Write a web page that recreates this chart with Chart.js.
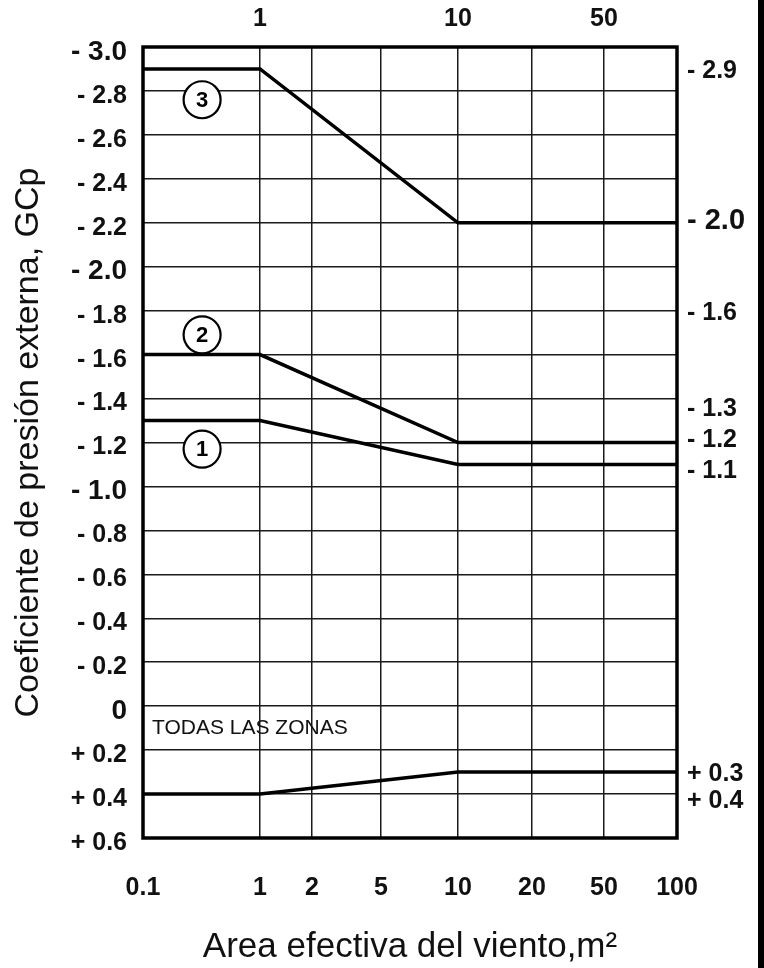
<!DOCTYPE html>
<html>
<head>
<meta charset="utf-8">
<title>Coeficiente de presión externa, GCp</title>
<script src="https://cdn.jsdelivr.net/npm/chart.js"></script>
<style>
    body {
        margin: 0;
        background: #fff;
    }
    #wrap {
        width: 764px;
        height: 968px;
        box-sizing: border-box;
        border-right: 6px solid #000;
    }
    canvas {
        display: block;
    }
</style>
</head>
<body>
<div id="wrap"><canvas id="gcpChart" width="758" height="968"></canvas></div>

<script>
// effective wind area (m2) at the corners of each curve
const areas = [0.1, 1, 10, 100];
const zone1 = [-1.3, -1.3, -1.1, -1.1];
const zone2 = [-1.6, -1.6, -1.2, -1.2];
const zone3 = [-2.9, -2.9, -2.2, -2.2];
const allZones = [0.4, 0.4, 0.3, 0.3];

const bottomTicks = [0.1, 1, 2, 5, 10, 20, 50, 100];
const topTicks = [1, 10, 50];
const yTicks = [-3.0, -2.8, -2.6, -2.4, -2.2, -2.0, -1.8, -1.6, -1.4, -1.2,
                -1.0, -0.8, -0.6, -0.4, -0.2, 0, 0.2, 0.4, 0.6];

// text written at the right of the frame: [text, GCp]
const sideLabels = [['- 2.9', -2.89], ['- 2.0', -2.21], ['- 1.6', -1.79], ['- 1.3', -1.35],
                    ['- 1.2', -1.21], ['- 1.1', -1.07], ['+ 0.3', 0.31], ['+ 0.4', 0.43]];
// circled zone numbers: [zone, area, GCp]
const zoneMarks = [['3', 0.32, -2.76], ['2', 0.32, -1.69], ['1', 0.32, -1.17]];

// the printed grid is not a true log axis, so the columns go where the drawing has them
const xGridFrac = [0, 117, 169, 238, 315, 389, 461, 534].map(v => v / 534);

const FONT = '"Liberation Sans", Arial, sans-serif';

function areaToFrac(v) {
    const b = bottomTicks;
    if (v <= b[0]) return 0;
    for (let i = 1; i < b.length; i++) {
        if (v <= b[i]) {
            const t = Math.log(v / b[i - 1]) / Math.log(b[i] / b[i - 1]);
            return xGridFrac[i - 1] + t * (xGridFrac[i] - xGridFrac[i - 1]);
        }
    }
    return 1;
}

function fracToArea(f) {
    const b = bottomTicks;
    for (let i = 1; i < b.length; i++) {
        if (f <= xGridFrac[i]) {
            const t = (f - xGridFrac[i - 1]) / (xGridFrac[i] - xGridFrac[i - 1]);
            return b[i - 1] * Math.pow(b[i] / b[i - 1], t);
        }
    }
    return b[b.length - 1];
}

class PiecewiseScale extends Chart.LinearScale {
    static id = 'piecewise';
    getPixelForValue(v) {
        if (v === null || isNaN(v)) return NaN;
        return this.getPixelForDecimal(areaToFrac(v));
    }
    getValueForPixel(px) {
        return fracToArea(this.getDecimalForPixel(px));
    }
}
Chart.register(PiecewiseScale);

function line(values) {
    return {
        data: areas.map((a, i) => ({ x: a, y: values[i] })),
        borderColor: '#000',
        borderWidth: 3.5,
        pointRadius: 0,
        tension: 0,
        fill: false
    };
}

const extras = {
    id: 'extras',
    afterDraw(chart) {
        const { ctx, chartArea: a, scales: { x, y } } = chart;
        ctx.save();
        ctx.strokeStyle = '#000';
        ctx.lineWidth = 3.5;
        ctx.strokeRect(a.left, a.top, a.right - a.left, a.bottom - a.top);

        ctx.textAlign = 'center';
        ctx.textBaseline = 'middle';
        zoneMarks.forEach(([n, xv, yv]) => {
            const px = x.getPixelForValue(xv);
            const py = y.getPixelForValue(yv);
            ctx.beginPath();
            ctx.arc(px, py, 18.5, 0, Math.PI * 2);
            ctx.fillStyle = '#fff';
            ctx.fill();
            ctx.lineWidth = 2.2;
            ctx.stroke();
            ctx.fillStyle = '#000';
            ctx.font = 'bold 22px ' + FONT;
            ctx.fillText(n, px, py + 1);
        });

        ctx.textAlign = 'left';
        ctx.fillStyle = '#111';
        ctx.font = '21px ' + FONT;
        ctx.fillText('TODAS LAS ZONAS', a.left + 9, y.getPixelForValue(0.1));

        sideLabels.forEach(([t, yv]) => {
            ctx.font = 'bold ' + (t === '- 2.0' ? 29 : 25) + 'px ' + FONT;
            ctx.fillText(t, a.right + 10, y.getPixelForValue(yv));
        });
        ctx.restore();
    }
};

new Chart(document.getElementById('gcpChart'), {
    type: 'line',
    data: {
        datasets: [line(zone3), line(zone2), line(zone1), line(allZones)]
    },
    options: {
        responsive: false,
        animation: false,
        layout: { padding: { top: 0, left: 0, right: 81, bottom: 0 } },
        plugins: {
            legend: { display: false },
            tooltip: { enabled: false }
        },
        scales: {
            x: {
                type: 'piecewise',
                position: 'bottom',
                min: 0.1,
                max: 100,
                afterBuildTicks: axis => { axis.ticks = bottomTicks.map(v => ({ value: v })); },
                afterFit: axis => { axis.height = 130; },
                grid: { color: '#1a1a1a', lineWidth: 1.5, drawTicks: false },
                border: { display: false },
                ticks: {
                    autoSkip: false,
                    maxRotation: 0,
                    padding: 35,
                    color: '#111',
                    font: { family: FONT, weight: 'bold', size: 25 },
                    callback: v => String(v)
                },
                title: {
                    display: true,
                    text: 'Area efectiva del viento,m²',
                    color: '#111',
                    padding: { top: 0, bottom: 0 },
                    font: { family: FONT, size: 35 }
                }
            },
            x2: {
                type: 'piecewise',
                position: 'top',
                min: 0.1,
                max: 100,
                afterBuildTicks: axis => { axis.ticks = topTicks.map(v => ({ value: v })); },
                afterFit: axis => { axis.height = 47; },
                grid: { display: false, drawTicks: false },
                border: { display: false },
                ticks: {
                    autoSkip: false,
                    maxRotation: 0,
                    padding: 13,
                    color: '#111',
                    font: { family: FONT, weight: 'bold', size: 25 },
                    callback: v => String(v)
                }
            },
            y: {
                min: -3.0,
                max: 0.6,
                reverse: true,
                bounds: 'data',
                afterBuildTicks: axis => { axis.ticks = yTicks.map(v => ({ value: v })); },
                afterFit: axis => { axis.width = 143; },
                grid: { color: '#1a1a1a', lineWidth: 1.5, drawTicks: false },
                border: { display: false },
                ticks: {
                    autoSkip: false,
                    padding: 16,
                    labelOffset: 5,
                    color: '#111',
                    font: ctx => ({
                        family: FONT,
                        weight: 'bold',
                        size: ctx.tick && Number.isInteger(ctx.tick.value) ? 28 : 25
                    }),
                    callback: v => v === 0 ? '0' : (v < 0 ? '- ' : '+ ') + Math.abs(v).toFixed(1)
                },
                title: {
                    display: true,
                    text: 'Coeficiente de presión externa, GCp',
                    color: '#111',
                    padding: { top: 8, bottom: 0 },
                    font: { family: FONT, size: 34 }
                }
            }
        }
    },
    plugins: [extras]
});
</script>
</body>
</html>
